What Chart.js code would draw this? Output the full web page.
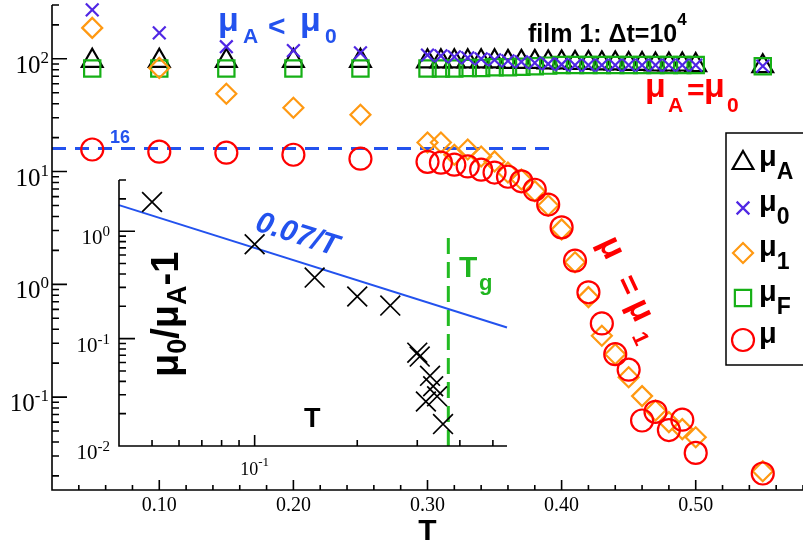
<!DOCTYPE html>
<html>
<head>
<meta charset="utf-8">
<script src="https://cdn.jsdelivr.net/npm/chart.js@4.4.1/dist/chart.umd.min.js"></script>
<style>
  html, body { margin: 0; padding: 0; background: #fff; }
  #wrap { position: relative; width: 803px; height: 545px; }
  #wrap canvas { position: absolute; left: 0; top: 0; }
</style>
</head>
<body>
<div id="wrap">
  <canvas id="main" width="803" height="545"></canvas>
  <canvas id="inset" width="803" height="545"></canvas>
</div>
<script>
// main panel: temperatures and the five mobilities
const temps = [0.05, 0.10, 0.15, 0.20, 0.25,
  0.30, 0.31, 0.32, 0.33, 0.34, 0.35, 0.36, 0.37, 0.38, 0.39, 0.40,
  0.41, 0.42, 0.43, 0.44, 0.45, 0.46, 0.47, 0.48, 0.49, 0.50, 0.55];
const muA = [96, 96, 96, 96, 96,
  95, 95, 95, 95, 95, 95, 94, 94, 94, 93, 93, 92, 92, 91, 91, 90, 90, 89, 89, 89, 88, 86];
const mu0 = [272, 170, 128, 118, 113,
  108, 106, 104, 102, 100, 98, 96, 94, 92, 90, 89, 88, 88, 88, 88, 88, 88, 88, 88, 88, 88, 86];
const mu1 = [188, 83, 49, 36.8, 31.9,
  18.1, 18.1, 14.1, 15.7, 13.6, 12.3, 9.8, 8.5, 6.7, 5.0, 3.07, 1.57, 0.77, 0.35, 0.24,
  0.15, 0.102, 0.076, 0.060, 0.052, 0.044, 0.022];
const muF = [82, 82, 82, 82, 82,
  82, 82, 82, 83, 83, 84, 84, 85, 86, 87, 88, 88, 88, 88, 88, 88, 88, 88, 88, 88, 88, 86];
const mu = [15.7, 15.0, 14.7, 14.1, 13.0,
  12.2, 12.0, 11.5, 11.1, 10.4, 9.8, 9.0, 8.2, 6.9, 5.1, 3.2, 1.62, 0.85, 0.45, 0.24,
  0.175, 0.062, 0.074, 0.051, 0.063, 0.032, 0.021];
const line16T = [0.02, 0.395];
const line16V = [16, 16];

const xTickVals = [0.1, 0.2, 0.3, 0.4, 0.5];
const xTickLabels = ['0.10', '0.20', '0.30', '0.40', '0.50'];
const yTickExp = [2, 1, 0, -1];

// inset: mu0/muA - 1 against T
const insetT = [0.05, 0.10, 0.15, 0.20, 0.25, 0.30, 0.305, 0.318, 0.327, 0.334, 0.343, 0.357];
const insetRatio = [1.87, 0.756, 0.37, 0.247, 0.203, 0.074, 0.068, 0.026, 0.045, 0.036, 0.029, 0.016];
const fitT = [0.04, 0.55];          // 0.07/T
const fitV = [1.75, 0.127];
const tgT = [0.37, 0.37];
const tgV = [0.01, 1.0];
const insetYExp = [0, -1, -2];

const SANS = '"Liberation Sans", Arial, sans-serif';
const SERIF = '"Liberation Serif", "Times New Roman", serif';
const BLUE = '#2352ee';
const VIOLET = '#5027e4';
const ORANGE = '#ff9912';
const GREEN = '#16b016';
const RED = '#ff0000';

const pts = (xs, ys) => xs.map((x, i) => ({ x: x, y: ys[i] }));

function drawRuns(ctx, x, y, parts) {
  let cx = x;
  for (const [t, font, dy] of parts) {
    ctx.font = font;
    ctx.fillText(t, cx, y + (dy || 0));
    cx += ctx.measureText(t).width;
  }
  return cx;
}
function runsWidth(ctx, parts) {
  let w = 0;
  for (const [t, font] of parts) { ctx.font = font; w += ctx.measureText(t).width; }
  return w;
}

function logMinors(scale, cb) {
  for (let d = -3; d <= 3; d++) {
    for (let m = 1; m <= 9; m++) {
      const v = m * Math.pow(10, d);
      if (v < scale.min * 0.999 || v > scale.max * 1.001) continue;
      cb(scale.getPixelForValue(v), m === 1);
    }
  }
}

const mainDecor = {
  id: 'mainDecor',
  afterDatasetsDraw(chart) {
    const { ctx, chartArea: a, scales: { x, y } } = chart;
    ctx.save();
    ctx.strokeStyle = '#000';
    ctx.fillStyle = '#000';
    ctx.lineWidth = 1.6;
    ctx.beginPath();
    ctx.moveTo(a.left, a.top);
    ctx.lineTo(a.left, a.bottom);
    ctx.lineTo(a.right, a.bottom);
    for (let i = 1; i <= 29; i++) {
      const px = x.getPixelForValue(i * 0.02);
      ctx.moveTo(px, a.bottom);
      ctx.lineTo(px, a.bottom - (i % 5 === 0 ? 10 : 5));
    }
    logMinors(y, (py, major) => {
      ctx.moveTo(a.left, py);
      ctx.lineTo(a.left + (major ? 15 : 7), py);
    });
    ctx.stroke();

    // tick labels
    ctx.textBaseline = 'alphabetic';
    ctx.textAlign = 'center';
    ctx.font = '20px ' + SERIF;
    xTickVals.forEach((v, i) => ctx.fillText(xTickLabels[i], x.getPixelForValue(v), 511));
    ctx.textAlign = 'left';
    yTickExp.forEach(e => {
      const py = y.getPixelForValue(Math.pow(10, e));
      const parts = [['10', '25px ' + SERIF, 14], [String(e), '17px ' + SERIF, 4]];
      const w = runsWidth(ctx, parts);
      drawRuns(ctx, a.left - 3 - w, py, parts);
    });

    // axis title
    ctx.textAlign = 'center';
    ctx.font = 'bold 30px ' + SANS;
    ctx.fillText('T', x.getPixelForValue(0.3), 540);
    ctx.textAlign = 'left';

    // annotations
    ctx.fillStyle = BLUE;
    ctx.font = 'bold 18px ' + SANS;
    ctx.fillText('16', 110, 143);
    ctx.font = 'bold 34px ' + SANS;
    ctx.fillText('\u03bc', 218, 31);
    ctx.fillText('\u03bc', 300, 31);
    ctx.font = 'bold 30px ' + SANS;
    ctx.fillText('<', 268, 36);
    ctx.font = 'bold 21px ' + SANS;
    ctx.fillText('A', 243, 43);
    ctx.fillText('0', 325, 43);

    ctx.fillStyle = '#000';
    drawRuns(ctx, 528, 42, [['film 1: \u0394t=10', 'bold 25px ' + SANS, 0], ['4', 'bold 17px ' + SANS, -17]]);

    ctx.fillStyle = RED;
    ctx.font = 'bold 34px ' + SANS;
    ctx.fillText('\u03bc', 645, 97);
    ctx.fillText('\u03bc', 704, 97);
    ctx.font = 'bold 30px ' + SANS;
    ctx.fillText('=', 687, 100);
    ctx.font = 'bold 21px ' + SANS;
    ctx.fillText('A', 668, 112);
    ctx.fillText('0', 727, 112);

    // mu = mu1 along the falling branch
    ctx.save();
    ctx.translate(608, 250);
    ctx.rotate(65 * Math.PI / 180);
    ctx.font = 'bold 34px ' + SANS;
    ctx.fillText('\u03bc', -11, 6);
    ctx.fillText('\u03bc', 58, 6);
    ctx.font = 'bold 32px ' + SANS;
    ctx.fillText('=', 31, 6);
    ctx.font = 'bold 22px ' + SANS;
    ctx.fillText('1', 88, 15);
    ctx.restore();
    ctx.restore();
  },
  afterDraw(chart) {
    const { ctx } = chart;
    ctx.save();
    ctx.fillStyle = '#fff';
    ctx.strokeStyle = '#000';
    ctx.lineWidth = 1.5;
    ctx.fillRect(726, 133, 100, 232);
    ctx.strokeRect(726, 133, 100, 232);
    const rows = [
      ['triangle', 12, '#000', 163, 'A'],
      ['crossRot', 9, VIOLET, 208, '0'],
      ['rectRot', 10, ORANGE, 253, '1'],
      ['rect', 11.5, GREEN, 298, 'F'],
      ['circle', 11, RED, 340, '']
    ];
    rows.forEach(([style, r, col, yy, sub]) => {
      ctx.strokeStyle = col;
      ctx.fillStyle = 'rgba(0,0,0,0)';
      ctx.lineWidth = 2.2;
      Chart.helpers.drawPoint(ctx, { pointStyle: style, radius: r, borderWidth: 2.2, rotation: 0 }, 743, yy);
      ctx.fillStyle = '#000';
      drawRuns(ctx, 759, yy + 3, [['\u03bc', 'bold 29px ' + SANS, 0], [sub, 'bold 23px ' + SANS, 13]]);
    });
    ctx.restore();
  }
};

const insetDecor = {
  id: 'insetDecor',
  afterDatasetsDraw(chart) {
    const { ctx, chartArea: a, scales: { x, y } } = chart;
    ctx.save();
    ctx.strokeStyle = '#000';
    ctx.fillStyle = '#000';
    ctx.lineWidth = 1.6;
    ctx.beginPath();
    ctx.moveTo(a.left, a.top);
    ctx.lineTo(a.left, a.bottom);
    ctx.lineTo(a.right, a.bottom);
    logMinors(x, (px, major) => {
      ctx.moveTo(px, a.bottom);
      ctx.lineTo(px, a.bottom - (major ? 11 : 6));
    });
    logMinors(y, (py, major) => {
      ctx.moveTo(a.left, py);
      ctx.lineTo(a.left + (major ? 16 : 7), py);
    });
    ctx.stroke();

    ctx.textAlign = 'left';
    insetYExp.forEach(e => {
      const py = y.getPixelForValue(Math.pow(10, e));
      const parts = [['10', '21px ' + SERIF, 13], [String(e), '15px ' + SERIF, 5]];
      const w = runsWidth(ctx, parts);
      drawRuns(ctx, a.left - 9 - w, py, parts);
    });
    const xp = [['10', '18px ' + SERIF, 0], ['-1', '13px ' + SERIF, -9]];
    drawRuns(ctx, x.getPixelForValue(0.1) - runsWidth(ctx, xp) / 2, 475, xp);

    ctx.font = 'bold 27px ' + SANS;
    ctx.fillText('T', 304, 427);

    // y title, rotated
    ctx.save();
    ctx.translate(178, 377);
    ctx.rotate(-Math.PI / 2);
    drawRuns(ctx, 0, 0, [
      ['\u03bc', 'bold 38px ' + SANS, 0], ['0', 'bold 27px ' + SANS, 8],
      ['/', 'bold 38px ' + SANS, 0],
      ['\u03bc', 'bold 38px ' + SANS, 0], ['A', 'bold 27px ' + SANS, 8],
      ['-1', 'bold 38px ' + SANS, 0]
    ]);
    ctx.restore();

    // fit label
    ctx.save();
    ctx.fillStyle = BLUE;
    ctx.translate(297, 235);
    ctx.rotate(17.5 * Math.PI / 180);
    ctx.textAlign = 'center';
    ctx.textBaseline = 'middle';
    ctx.font = 'italic bold 30px ' + SANS;
    ctx.fillText('0.07/T', 0, 0);
    ctx.restore();

    ctx.fillStyle = '#1fb51f';
    ctx.font = 'bold 30px ' + SANS;
    ctx.fillText('T', 459, 277);
    ctx.font = 'bold 22px ' + SANS;
    ctx.fillText('g', 479, 290);
    ctx.restore();
  }
};

const scatterSet = (label, data, style, r, col, order) => ({
  label: label,
  data: data,
  showLine: false,
  pointStyle: style,
  pointRadius: r,
  pointBorderColor: col,
  pointBackgroundColor: 'rgba(0,0,0,0)',
  pointBorderWidth: 2.2,
  order: order,
  clip: false
});

new Chart(document.getElementById('main'), {
  type: 'scatter',
  data: {
    datasets: [
      scatterSet('muA', pts(temps, muA), 'triangle', 12, '#000', 5),
      scatterSet('mu0', pts(temps, mu0), 'crossRot', 9, VIOLET, 3),
      scatterSet('mu1', pts(temps, mu1), 'rectRot', 10, ORANGE, 2),
      scatterSet('muF', pts(temps, muF), 'rect', 11.5, GREEN, 4),
      scatterSet('mu', pts(temps, mu), 'circle', 11, RED, 1),
      {
        label: '16',
        data: pts(line16T, line16V),
        showLine: true,
        pointRadius: 0,
        borderColor: BLUE,
        borderWidth: 3,
        borderDash: [14, 9],
        order: 6,
        clip: false
      }
    ]
  },
  options: {
    responsive: false,
    animation: false,
    devicePixelRatio: 1,
    events: [],
    layout: { autoPadding: false, padding: { left: 52, top: 5, right: 0, bottom: 55 } },
    plugins: { legend: { display: false }, tooltip: { enabled: false } },
    scales: {
      x: { type: 'linear', display: false, bounds: 'data', min: 0.02, max: 0.58 },
      y: { type: 'logarithmic', display: false, bounds: 'data', min: 0.015, max: 300 }
    }
  },
  plugins: [mainDecor]
});

new Chart(document.getElementById('inset'), {
  type: 'scatter',
  data: {
    datasets: [
      {
        label: 'ratio',
        data: pts(insetT, insetRatio),
        showLine: false,
        pointStyle: 'crossRot',
        pointRadius: 14,
        pointBorderColor: '#000',
        pointBorderWidth: 1.7,
        clip: false
      },
      {
        label: 'fit',
        data: pts(fitT, fitV),
        showLine: true,
        pointRadius: 0,
        borderColor: BLUE,
        borderWidth: 2,
        clip: false
      },
      {
        label: 'Tg',
        data: pts(tgT, tgV),
        showLine: true,
        pointRadius: 0,
        borderColor: '#22bb22',
        borderWidth: 3,
        borderDash: [16, 8],
        clip: false
      }
    ]
  },
  options: {
    responsive: false,
    animation: false,
    devicePixelRatio: 1,
    events: [],
    layout: { autoPadding: false, padding: { left: 119, top: 180, right: 296, bottom: 99 } },
    plugins: { legend: { display: false }, tooltip: { enabled: false } },
    scales: {
      x: { type: 'logarithmic', display: false, bounds: 'data', min: 0.04, max: 0.55 },
      y: { type: 'logarithmic', display: false, bounds: 'data', min: 0.01, max: 3 }
    }
  },
  plugins: [insetDecor]
});
</script>
</body>
</html>
